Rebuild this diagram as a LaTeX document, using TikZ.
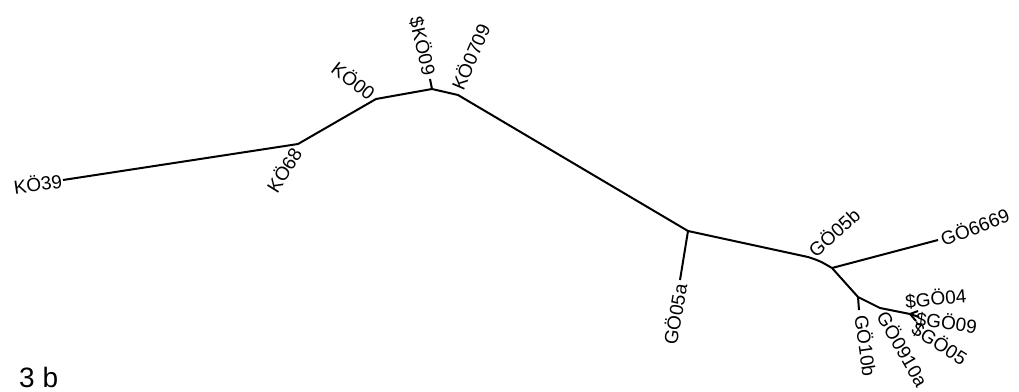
\documentclass[tikz,border=0pt]{standalone}
\usepackage{fontspec}
\setmainfont{Liberation Sans}
\begin{document}
\begin{tikzpicture}[x=1pt,y=-1pt,
  branch/.style={line width=2pt,line join=round},
  tiplabel/.style={inner sep=1pt,font=\fontsize{19}{19}\selectfont},
  tiplabelR/.style={tiplabel,anchor=west},
  tiplabelL/.style={tiplabel,anchor=east}]
\useasboundingbox (0,0) rectangle (1019,391);
% internal nodes and tips
\coordinate (k39) at (63,180);
\coordinate (k68) at (298,144);
\coordinate (k00) at (376,99);
\coordinate (n1) at (432,89);
\coordinate (k09) at (430,79);
\coordinate (k0709) at (458,95);
\coordinate (n2) at (688,231);
\coordinate (g05a) at (680,280);
\coordinate (g05b) at (808,257);
\coordinate (n3) at (832,268);
\coordinate (g6669) at (938,240);
\coordinate (n4) at (858,297);
\coordinate (g10b) at (859,310);
\coordinate (g0910a) at (880,308);
\coordinate (n5) at (910,314);
\coordinate (g04) at (918,311);
\coordinate (g09) at (919,317);
\coordinate (g05) at (916,321);
% branches
\draw[branch] (k39) -- (k68) -- (k00) -- (n1) -- (k0709) -- (n2) -- (g05b)
  .. controls (820,261) .. (n3);
\draw[branch] (n1) -- (k09);
\draw[branch] (n2) -- (g05a);
\draw[branch] (n3) -- (g6669);
\draw[branch] (n3) .. controls (845,283) .. (n4);
\draw[branch] (n4) -- (g10b);
\draw[branch] (n4) -- (g0910a) -- (n5);
\draw[branch] (n5) -- (g04);
\draw[branch] (n5) -- (g09);
\draw[branch] (n5) -- (g05);
% labels
\node[tiplabelL,rotate=8] (lk39) at (k39) {KÖ39};
\node[tiplabelL,rotate=58] (lk68) at ([shift={(-1,4)}]k68) {KÖ68};
\node[tiplabelL,rotate=-38] (lk00) at ([shift={(-2,-3)}]k00) {KÖ00};
\node[tiplabelL,rotate=-77] (lk09) at ([shift={(0,-3)}]k09) {\$KÖ09};
\node[tiplabelR,rotate=67] (lk0709) at ([shift={(-2,-5)}]k0709) {KÖ0709};
\node[tiplabelL,rotate=80] (lg05a) at ([shift={(0,3)}]g05a) {GÖ05a};
\node[tiplabelR,rotate=42] (lg05b) at ([shift={(2,-4)}]g05b) {GÖ05b};
\node[tiplabelR,rotate=21] (lg6669) at ([shift={(2,0)}]g6669) {GÖ6669};
\node[tiplabelR,rotate=-82] (lg10b) at ([shift={(3,4)}]g10b) {GÖ10b};
\node[tiplabelR,rotate=-60] (lg0910a) at ([shift={(2,4)}]g0910a) {GÖ0910a};
\node[tiplabelR,rotate=5] (lg04) at ([shift={(-14,-10)}]g04) {\$GÖ04};
\node[tiplabelR,rotate=-8] (lg09) at ([shift={(-4,1)}]g09) {\$GÖ09};
\node[tiplabelR,rotate=-33] (lg05) at ([shift={(-3,5)}]g05) {\$GÖ05};
\node[anchor=base west,inner sep=0pt,font=\fontsize{28}{28}\selectfont] (title) at (19,387) {3 b};
\end{tikzpicture}
\end{document}
